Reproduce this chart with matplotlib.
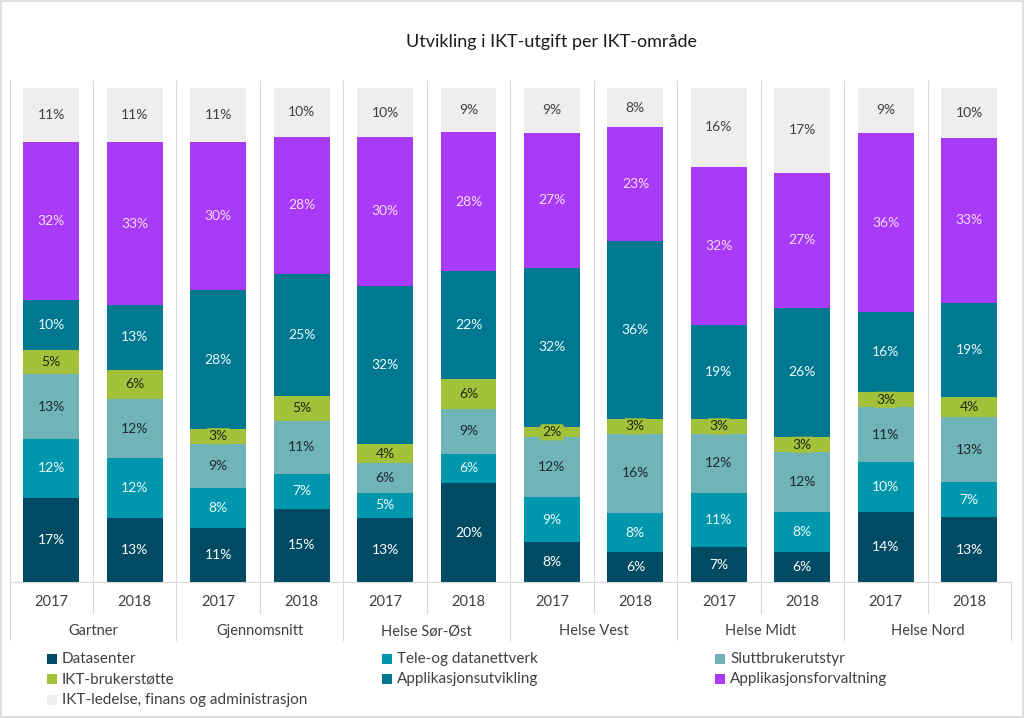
import matplotlib.pyplot as plt
from matplotlib.patches import Rectangle
import numpy as np

# Data
groups = ["Gartner", "Gjennomsnitt", "Helse Sør-Øst", "Helse Vest", "Helse Midt", "Helse Nord"]
years = ["2017", "2018"]

series_names = [
    "Datasenter",
    "Tele-og datanettverk",
    "Sluttbrukerutstyr",
    "IKT-brukerstøtte",
    "Applikasjonsutvikling",
    "Applikasjonsforvaltning",
    "IKT-ledelse, finans og administrasjon",
]

datasenter      = [17, 13, 11, 15, 13, 20, 8, 6, 7, 6, 14, 13]
tele            = [12, 12, 8, 7, 5, 6, 9, 8, 11, 8, 10, 7]
sluttbruker     = [13, 12, 9, 11, 6, 9, 12, 16, 12, 12, 11, 13]
brukerstotte    = [5, 6, 3, 5, 4, 6, 2, 3, 3, 3, 3, 4]
app_utvikling   = [10, 13, 28, 25, 32, 22, 32, 36, 19, 26, 16, 19]
app_forvaltning = [32, 33, 30, 28, 30, 28, 27, 23, 32, 27, 36, 33]
ledelse         = [11, 11, 11, 10, 10, 9, 9, 8, 16, 17, 9, 10]

series = [datasenter, tele, sluttbruker, brukerstotte, app_utvikling, app_forvaltning, ledelse]

colors = ["#004B63", "#0096AB", "#70B4B7", "#A4C13B", "#00788F", "#A93AF7", "#EEEEEE"]
text_colors = ["#FFFFFF", "#EAFBFF", "#1E2A30", "#1F2A10", "#EAFBFF", "#F7DDFF", "#404040"]

plt.rcParams['font.family'] = ['Lato', 'DejaVu Sans']

fig = plt.figure(figsize=(10.24, 7.18), dpi=100, facecolor='white')
W, H = 1024, 718

# axes in pixel coords: left 9.5, right 1011, top 80, bottom 582
ax = fig.add_axes([9.5 / W, 1 - 582 / H, (1011 - 9.5) / W, (582 - 80) / H])
ax_h = 582 - 80

vals = np.array(series, dtype=float)
totals = vals.sum(axis=0)
pct = vals / totals * 100

x = np.arange(len(datasenter))
bottom = np.zeros(len(x))
for i, name in enumerate(series_names):
    ax.bar(x, pct[i], 0.67, bottom=bottom, color=colors[i], edgecolor='none', zorder=2)
    for j in range(len(x)):
        yc = bottom[j] + pct[i][j] / 2
        kw = {}
        if i == 3:
            kw['bbox'] = dict(boxstyle='round,pad=0.15,rounding_size=0.1', fc=colors[i], ec='none')
        ax.text(x[j], yc, f"{series[i][j]}%", ha='center', va='center',
                color=text_colors[i], fontsize=10, zorder=4, **kw)
    bottom += pct[i]

ax.set_xlim(-0.5, 11.5)
ax.set_ylim(0, 101.6)
ax.axis('off')

grid_c = '#D9D9D9'
# vertical separators between bars
ax.vlines(np.arange(-0.5, 12, 1), 0, 1, transform=ax.get_xaxis_transform(),
          color=grid_c, lw=0.8, zorder=0)
# baseline
ax.plot([-0.5, 11.5], [0, 0], color=grid_c, lw=0.8, zorder=3, clip_on=False)

trans = ax.get_xaxis_transform()
y_year = -(602 - 582) / ax_h
y_group = -(631 - 582) / ax_h
y_tick = -(613 - 582) / ax_h
y_sep = -(640 - 582) / ax_h

for j in range(len(x)):
    ax.text(x[j], y_year, years[j % 2], transform=trans, ha='center', va='center',
            color='#404040', fontsize=10.5, clip_on=False)
for g, name in enumerate(groups):
    ax.text(2 * g + 0.5, y_group, name, transform=trans, ha='center', va='center',
            color='#404040', fontsize=10.5, clip_on=False)
    ax.plot([2 * g + 0.5, 2 * g + 0.5], [0, y_tick], transform=trans, color=grid_c,
            lw=0.8, clip_on=False)
for sx in np.arange(-0.5, 12, 2):
    ax.plot([sx, sx], [0, y_sep], transform=trans, color=grid_c, lw=0.8, clip_on=False)

# title
fig.text(552 / W, 1 - 42 / H, "Utvikling i IKT-utgift per IKT-område", ha='center', va='center',
         fontsize=13, color='#1A1A1A')

# legend (row-wise, three columns)
col_x = [47, 382, 715]
row_y = [659, 679, 700]
for i, name in enumerate(series_names):
    cx = col_x[i % 3]
    cy = row_y[i // 3]
    fig.patches.append(Rectangle((cx / W, 1 - (cy + 5) / H), 10 / W, 10 / H,
                                 transform=fig.transFigure, fc=colors[i], ec='none'))
    fig.text((cx + 15) / W, 1 - cy / H, name, ha='left', va='center',
             fontsize=11, color='#404040')

# outer frame
fig.patches.append(Rectangle((0.001, 0.001), 0.998, 0.997, transform=fig.transFigure,
                             fill=False, ec='#D9D9D9', lw=1.2))

fig.savefig('out.png', dpi=100, facecolor='white')
